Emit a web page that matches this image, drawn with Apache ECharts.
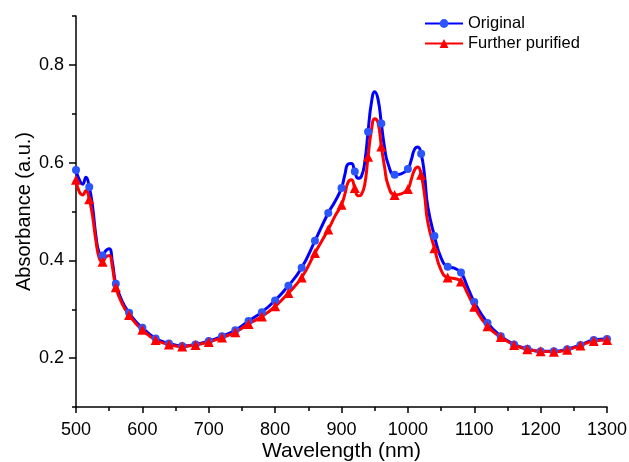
<!DOCTYPE html>
<html>
<head>
<meta charset="utf-8">
<script src="https://cdn.jsdelivr.net/npm/echarts@6/dist/echarts.min.js"></script>
<style>html,body{margin:0;padding:0;background:#fff}#c{width:629px;height:462px}</style>
</head>
<body>
<div id="c"></div>
<script>
const wavelengths = [500,505,510,515,520,525,530,535,540,545,550,555,560,570,580,590,600,620,640,660,680,700,720,740,760,780,800,820,840,860,880,890,900,905,910,915,920,925,930,935,940,945,950,955,960,965,970,980,990,1000,1005,1010,1015,1020,1025,1030,1040,1050,1060,1070,1080,1090,1100,1120,1140,1160,1180,1200,1220,1240,1260,1280,1300];
const original = [0.585,0.565,0.556,0.570,0.550,0.510,0.450,0.415,0.410,0.420,0.424,0.395,0.352,0.315,0.293,0.275,0.262,0.240,0.230,0.225,0.228,0.235,0.245,0.257,0.276,0.294,0.318,0.348,0.385,0.440,0.497,0.520,0.548,0.575,0.597,0.598,0.582,0.568,0.572,0.600,0.663,0.722,0.745,0.730,0.680,0.630,0.598,0.575,0.577,0.587,0.605,0.627,0.632,0.618,0.575,0.510,0.450,0.405,0.387,0.384,0.375,0.345,0.315,0.272,0.245,0.228,0.219,0.214,0.214,0.218,0.227,0.237,0.239];
const purified = [0.565,0.540,0.534,0.543,0.525,0.490,0.440,0.405,0.397,0.407,0.410,0.385,0.345,0.310,0.288,0.271,0.258,0.237,0.228,0.224,0.227,0.233,0.242,0.253,0.270,0.285,0.306,0.333,0.365,0.415,0.463,0.490,0.514,0.535,0.560,0.565,0.548,0.532,0.535,0.555,0.612,0.665,0.690,0.682,0.633,0.590,0.555,0.534,0.536,0.546,0.565,0.585,0.591,0.575,0.535,0.478,0.425,0.380,0.365,0.363,0.357,0.332,0.305,0.265,0.243,0.227,0.218,0.214,0.213,0.217,0.226,0.235,0.237];
const xTicks = [500,600,700,800,900,1000,1100,1200,1300];
const yMajor = [0.2,0.4,0.6,0.8];
const yMinor = [0.1,0.3,0.5,0.7,0.9];

const font = '"Liberation Sans", Arial, sans-serif';
const pairs = (ys) => wavelengths.map((x,i)=>[x, ys[i]]);
const markerSize = (s) => (v) => (v[0] % 20 === 0 ? s : 0);

const chart = echarts.init(document.getElementById('c'), null, {renderer:'canvas'});
chart.setOption({
  animation:false,
  backgroundColor:'#fff',
  grid:{left:76,right:22,top:16,bottom:55,containLabel:false,outerBoundsMode:'none'},
  legend:{
    orient:'vertical', left:419, top:10, itemWidth:38, itemHeight:11, itemGap:3,
    textStyle:{fontFamily:font, fontSize:16.5, color:'#000'},
    data:['Original','Further purified']
  },
  xAxis:{
    type:'value', min:500, max:1300, interval:100,
    name:'Wavelength (nm)', nameLocation:'middle', nameGap:34, nameMoveOverlap:false,
    nameTextStyle:{fontFamily:font, fontSize:21, color:'#000'},
    axisLine:{show:true, lineStyle:{color:'#000', width:1.5}},
    axisTick:{show:true, length:6, lineStyle:{color:'#000', width:1.5}},
    minorTick:{show:true, splitNumber:2, length:4, lineStyle:{color:'#000', width:1.5}},
    axisLabel:{fontFamily:font, fontSize:18, color:'#000', margin:14, customValues:xTicks, formatter:(v)=>String(v)},
    splitLine:{show:false}
  },
  yAxis:[{
    type:'value', min:0.1, max:0.9,
    name:'Absorbance (a.u.)', nameLocation:'middle', nameGap:42, nameMoveOverlap:false,
    nameTextStyle:{fontFamily:font, fontSize:20, color:'#000'},
    axisLine:{show:true, lineStyle:{color:'#000', width:1.5}},
    axisTick:{show:true, length:7, customValues:yMajor, lineStyle:{color:'#000', width:1.5}},
    axisLabel:{fontFamily:font, fontSize:18, color:'#000', margin:12, customValues:yMajor, formatter:(v)=>v.toFixed(1)},
    splitLine:{show:false}
  },{
    type:'value', min:0.1, max:0.9, position:'left',
    axisLine:{show:false},
    axisTick:{show:true, length:4, customValues:yMinor, lineStyle:{color:'#000', width:1.5}},
    axisLabel:{show:false},
    splitLine:{show:false}
  }],
  series:[{
    name:'Original', type:'line', data:pairs(original),
    smooth:0.5, showAllSymbol:true,
    symbol:'circle', symbolSize:markerSize(8),
    lineStyle:{color:'#0000ff', width:3},
    itemStyle:{color:'#2a55ff'},
    emphasis:{disabled:true}
  },{
    name:'Further purified', type:'line', data:pairs(purified),
    smooth:0.5, showAllSymbol:true,
    symbol:'triangle', symbolSize:markerSize(10),
    lineStyle:{color:'#ff0000', width:3},
    itemStyle:{color:'#ff0000'},
    emphasis:{disabled:true}
  }]
});
</script>
</body>
</html>
